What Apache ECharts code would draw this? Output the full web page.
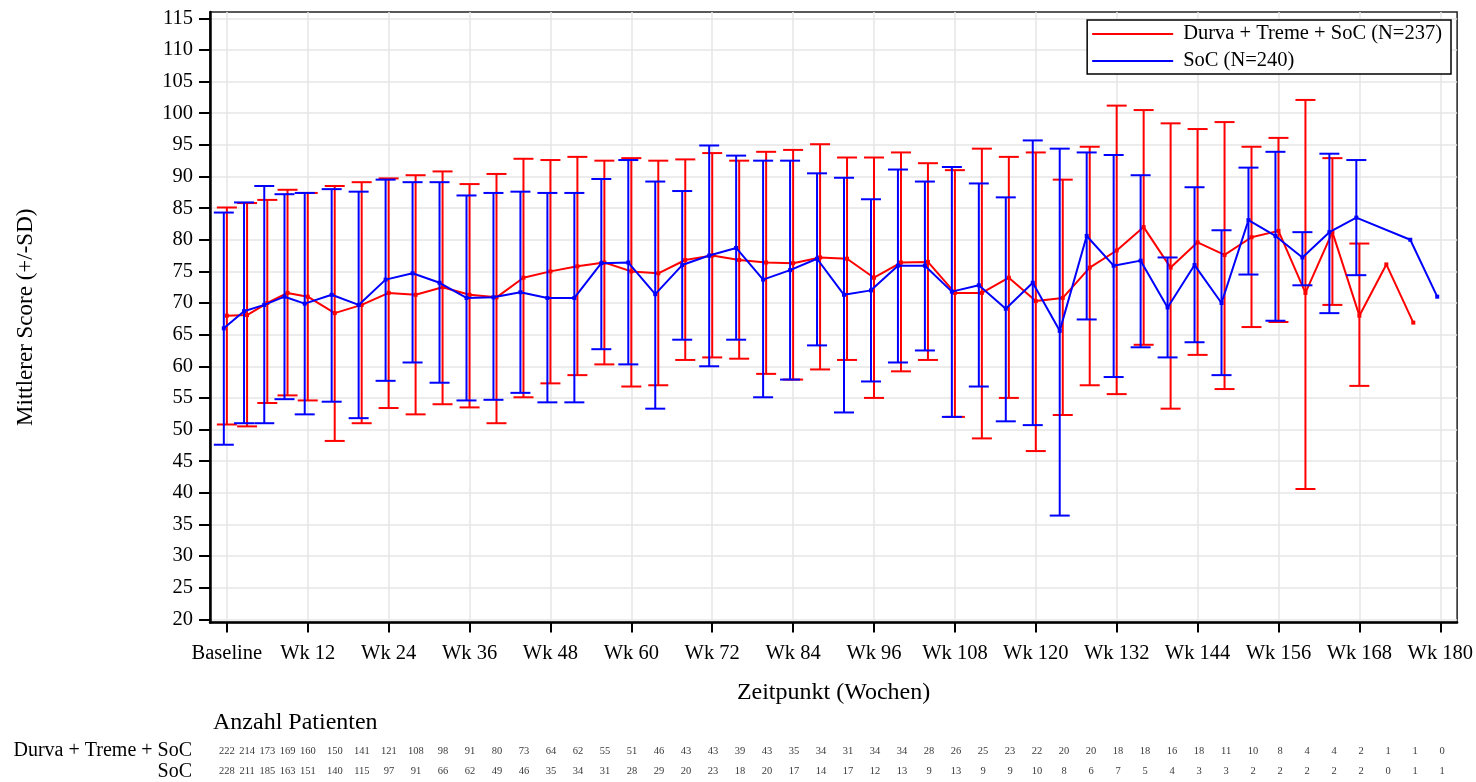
<!DOCTYPE html>
<html>
<head>
<meta charset="utf-8">
<title>Mittlerer Score</title>
<script src="https://cdn.jsdelivr.net/npm/echarts@6/dist/echarts.min.js"></script>
<style>
  html, body { margin: 0; padding: 0; background: #fff; }
  #chart { width: 1476px; height: 782px; }
</style>
</head>
<body>
<div id="chart"></div>
<script>
// Zeitpunkte (Wochen)
const weeks = [0, 3, 6, 9, 12, 16, 20, 24, 28, 32, 36, 40, 44, 48, 52, 56, 60, 64, 68, 72, 76, 80, 84, 88,
  92, 96, 100, 104, 108, 112, 116, 120, 124, 128, 132, 136, 140, 144, 148, 152, 156, 160, 164, 168, 172, 176, 180];

const xTickWeeks = [0, 12, 24, 36, 48, 60, 72, 84, 96, 108, 120, 132, 144, 156, 168, 180];
const xTickLabels = ['Baseline', 'Wk 12', 'Wk 24', 'Wk 36', 'Wk 48', 'Wk 60', 'Wk 72', 'Wk 84', 'Wk 96',
  'Wk 108', 'Wk 120', 'Wk 132', 'Wk 144', 'Wk 156', 'Wk 168', 'Wk 180'];
const yTicks = [20, 25, 30, 35, 40, 45, 50, 55, 60, 65, 70, 75, 80, 85, 90, 95, 100, 105, 110, 115];

const durvaName = 'Durva + Treme + SoC (N=237)';
const socName = 'SoC (N=240)';
const rowNames = ['Durva + Treme + SoC', 'SoC'];

// Durva + Treme + SoC
const durvaMean = [68.0, 68.1, 70.0, 71.6, 71.0, 68.4, 69.7, 71.6, 71.3, 72.5, 71.3, 70.9, 74.0, 75.0, 75.8, 76.4,
  75.0, 74.7, 76.8, 77.5, 76.8, 76.4, 76.3, 77.2, 77.0, 74.0, 76.4, 76.5, 71.6, 71.6, 74.0, 70.3, 70.8, 75.6,
  78.3, 82.0, 75.6, 79.6, 77.6, 80.4, 81.4, 71.6, 81.2, 68.0, 76.1, 66.9, null];
const durvaUpper = [85.1, 85.8, 86.3, 87.9, 87.4, 88.5, 89.1, 89.7, 90.2, 90.8, 88.8, 90.4, 92.8, 92.6, 93.1, 92.5,
  92.9, 92.5, 92.7, 93.7, 92.5, 93.9, 94.2, 95.1, 93.0, 93.0, 93.8, 92.1, 91.0, 94.4, 93.1, 93.8, 89.5, 94.7,
  101.2, 100.5, 98.4, 97.5, 98.6, 94.7, 96.1, 102.1, 92.9, 79.4, null, null, null];
const durvaLower = [50.8, 50.5, 54.2, 55.4, 54.6, 48.2, 51.0, 53.4, 52.4, 54.0, 53.5, 51.0, 55.1, 57.3, 58.6, 60.3,
  56.8, 57.0, 61.0, 61.4, 61.2, 58.8, 57.9, 59.5, 61.0, 55.0, 59.2, 61.0, 52.0, 48.6, 55.0, 46.6, 52.3, 57.0,
  55.6, 63.4, 53.3, 61.8, 56.4, 66.2, 67.0, 40.6, 69.7, 56.9, null, null, null];
const durvaN = [222, 214, 173, 169, 160, 150, 141, 121, 108, 98, 91, 80, 73, 64, 62, 55, 51, 46, 43, 43, 39, 43, 35,
  34, 31, 34, 34, 28, 26, 25, 23, 22, 20, 20, 18, 18, 16, 18, 11, 10, 8, 4, 4, 2, 1, 1, 0];

// SoC
const socMean = [66.0, 68.7, 69.7, 71.0, 69.9, 71.3, 69.7, 73.7, 74.7, 73.2, 70.8, 70.9, 71.7, 70.8, 70.8, 76.3,
  76.4, 71.4, 76.0, 77.5, 78.7, 73.7, 75.2, 77.0, 71.3, 72.0, 75.9, 75.9, 71.8, 72.8, 69.1, 73.2, 65.6, 80.6,
  75.9, 76.7, 69.3, 76.0, 70.0, 83.1, 80.6, 77.2, 81.2, 83.5, null, 80.0, 71.0];
const socUpper = [84.3, 85.9, 88.5, 87.2, 87.4, 88.0, 87.6, 89.5, 89.1, 89.1, 87.0, 87.4, 87.6, 87.4, 87.4, 89.6,
  92.6, 89.2, 87.7, 94.9, 93.3, 92.5, 92.5, 90.5, 89.8, 86.4, 91.1, 89.2, 91.5, 88.9, 86.7, 95.7, 94.4, 93.8,
  93.4, 90.2, 77.2, 88.3, 81.5, 91.4, 93.9, 81.2, 93.6, 92.6, null, null, null];
const socLower = [47.6, 51.0, 51.0, 54.8, 52.4, 54.4, 51.8, 57.7, 60.6, 57.4, 54.6, 54.7, 55.8, 54.3, 54.3, 62.7,
  60.3, 53.3, 64.2, 60.0, 64.2, 55.1, 57.9, 63.3, 52.7, 57.6, 60.6, 62.5, 52.0, 56.8, 51.3, 50.7, 36.4, 67.4,
  58.3, 63.0, 61.4, 63.8, 58.6, 74.5, 67.2, 72.8, 68.4, 74.4, null, null, null];
const socN = [228, 211, 185, 163, 151, 140, 115, 97, 91, 66, 62, 49, 46, 35, 34, 31, 28, 29, 20, 23, 18, 20, 17,
  14, 17, 12, 13, 9, 13, 9, 9, 10, 8, 6, 7, 5, 4, 3, 3, 2, 2, 2, 2, 2, 0, 1, 1];

// SoC wird leicht nach links versetzt gezeichnet (Cluster-Versatz)
const socShift = -0.45;

const font = 'Liberation Serif';
const red = '#ff0000';
const blue = '#0000ff';

function lineData(mean, shift) {
  return weeks.map((w, i) => [w + shift, mean[i]]);
}

function barData(lower, upper, shift) {
  return weeks.map((w, i) => [w + shift, lower[i], upper[i]]).filter(d => d[1] != null);
}

function errorBar(color) {
  return function (params, api) {
    const x = api.value(0);
    const lo = api.coord([x, api.value(1)]);
    const hi = api.coord([x, api.value(2)]);
    const half = 10;
    const style = { stroke: color, lineWidth: 2, fill: null };
    return {
      type: 'group',
      children: [
        { type: 'line', shape: { x1: lo[0], y1: lo[1], x2: hi[0], y2: hi[1] }, style: style },
        { type: 'line', shape: { x1: lo[0] - half, y1: lo[1], x2: lo[0] + half, y2: lo[1] }, style: style },
        { type: 'line', shape: { x1: hi[0] - half, y1: hi[1], x2: hi[0] + half, y2: hi[1] }, style: style }
      ]
    };
  };
}

function countSeries(row, counts) {
  return {
    type: 'scatter',
    xAxisIndex: 1,
    yAxisIndex: 1,
    silent: true,
    symbolSize: 1,
    itemStyle: { color: 'transparent' },
    label: {
      show: true,
      position: 'inside',
      formatter: p => String(p.value[2]),
      fontFamily: font,
      fontSize: 10.5,
      color: '#000'
    },
    data: weeks.map((w, i) => [w, row, counts[i]])
  };
}

const chart = echarts.init(document.getElementById('chart'));
chart.setOption({
  animation: false,
  backgroundColor: '#fff',
  textStyle: { fontFamily: font },
  title: {
    text: 'Anzahl Patienten',
    left: 213,
    top: 711,
    padding: 0,
    textStyle: { fontFamily: font, fontSize: 24, fontWeight: 'normal', color: '#000' }
  },
  legend: {
    orient: 'vertical',
    right: 25,
    top: 20,
    data: [durvaName, socName],
    icon: 'rect',
    itemWidth: 81,
    itemHeight: 2,
    itemGap: 3,
    padding: [2, 9, 1, 5],
    borderColor: '#000',
    borderWidth: 1.5,
    borderRadius: 0,
    backgroundColor: '#fff',
    selectedMode: false,
    textStyle: { fontFamily: font, fontSize: 20.5, color: '#000', lineHeight: 24, padding: [0, 0, 0, 5] }
  },
  grid: [
    { left: 210, right: 17, top: 12, bottom: 159.5, show: true, borderColor: '#222', borderWidth: 1.5, backgroundColor: '#fff' },
    { left: 210, right: 17, top: 740.5, height: 46 }
  ],
  xAxis: [
    {
      type: 'value',
      gridIndex: 0,
      min: -2.5,
      max: 182.5,
      name: 'Zeitpunkt (Wochen)',
      nameLocation: 'middle',
      nameGap: 58,
      nameTextStyle: { fontFamily: font, fontSize: 24, color: '#000' },
      axisLine: { show: true, onZero: false, lineStyle: { color: '#000', width: 2.5 } },
      axisTick: { show: true, length: 10, customValues: xTickWeeks, lineStyle: { color: '#000', width: 2 } },
      axisLabel: {
        customValues: xTickWeeks,
        formatter: v => xTickLabels[xTickWeeks.indexOf(v)] || '',
        fontFamily: font,
        fontSize: 20.5,
        color: '#000',
        margin: 21
      },
      splitLine: { show: true, lineStyle: { color: '#e6e6e6', width: 1.5 } }
    },
    { type: 'value', gridIndex: 1, min: -2.5, max: 182.5, show: false }
  ],
  yAxis: [
    {
      type: 'value',
      gridIndex: 0,
      min: 19.5,
      max: 116,
      name: 'Mittlerer Score (+/-SD)',
      nameLocation: 'middle',
      nameRotate: 90,
      nameGap: 173,
      nameTextStyle: { fontFamily: font, fontSize: 23, color: '#000' },
      axisLine: { show: true, onZero: false, lineStyle: { color: '#000', width: 2.5 } },
      axisTick: { show: true, length: 11, customValues: yTicks, lineStyle: { color: '#000', width: 2 } },
      axisLabel: {
        customValues: yTicks,
        fontFamily: font,
        fontSize: 20.5,
        color: '#000',
        margin: 17
      },
      splitLine: { show: true, lineStyle: { color: '#e6e6e6', width: 1.5 } }
    },
    {
      type: 'category',
      gridIndex: 1,
      data: rowNames,
      inverse: true,
      axisLine: { show: false },
      axisTick: { show: false },
      splitLine: { show: false },
      axisLabel: { interval: 0, hideOverlap: false, fontFamily: font, fontSize: 20, color: '#000', margin: 18 }
    }
  ],
  series: [
    {
      name: durvaName,
      type: 'line',
      color: red,
      data: lineData(durvaMean, 0),
      connectNulls: true,
      symbol: 'rect',
      symbolSize: 4,
      lineStyle: { color: red, width: 2 },
      itemStyle: { color: red },
      z: 3
    },
    {
      name: durvaName,
      type: 'custom',
      color: red,
      renderItem: errorBar(red),
      encode: { x: 0, y: [1, 2] },
      data: barData(durvaLower, durvaUpper, 0),
      z: 3
    },
    {
      name: socName,
      type: 'line',
      color: blue,
      data: lineData(socMean, socShift),
      connectNulls: true,
      symbol: 'rect',
      symbolSize: 4,
      lineStyle: { color: blue, width: 2 },
      itemStyle: { color: blue },
      z: 4
    },
    {
      name: socName,
      type: 'custom',
      color: blue,
      renderItem: errorBar(blue),
      encode: { x: 0, y: [1, 2] },
      data: barData(socLower, socUpper, socShift),
      z: 4
    },
    countSeries(rowNames[0], durvaN),
    countSeries(rowNames[1], socN)
  ]
});
</script>
</body>
</html>
